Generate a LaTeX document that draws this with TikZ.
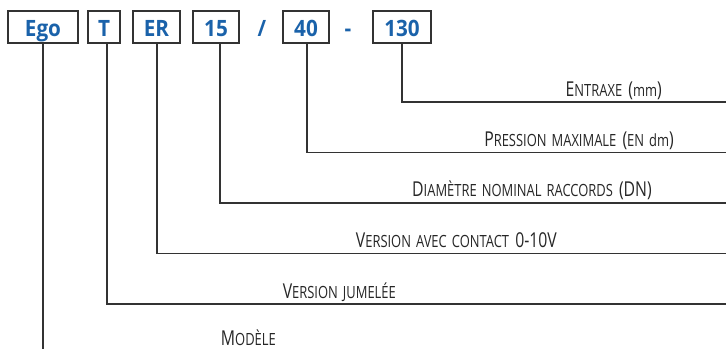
\documentclass[tikz,border=0pt]{standalone}
\usepackage{fontspec}
\setmainfont{Open Sans}[FakeStretch=0.77, WordSpace=1.5]
\newfontfamily\codefont{Open Sans}[FakeStretch=0.92]
\definecolor{codeblue}{HTML}{1A62AA}
\definecolor{linegray}{HTML}{333333}
\newcommand\smc[1]{{\fontsize{16.8}{18}\selectfont #1}}
\tikzset{
  codebox/.style={draw=linegray, line width=1.3pt, fill=white, inner sep=0pt,
    minimum height=32pt, text height=18pt, text depth=0pt,
    font=\codefont\bfseries\fontsize{22.5}{24}\selectfont, text=codeblue},
  sep/.style={inner sep=0pt, anchor=base,
    font=\codefont\bfseries\fontsize{22.5}{24}\selectfont, text=codeblue},
  conn/.style={draw=linegray, line width=1.3pt},
  lbl/.style={inner sep=0pt, anchor=base east, text=black!85,
    font=\fontsize{20.5}{23}\selectfont}
}
\begin{document}
\begin{tikzpicture}[x=1pt,y=-1pt]
\useasboundingbox (0,0) rectangle (726,349);
% code boxes
\node[codebox, minimum width=70pt] (ego) at (43,27) {Ego};
\node[codebox, minimum width=32pt] (T) at (104,27) {T};
\node[codebox, minimum width=47pt] (ER) at (156.5,27) {ER};
\node[codebox, minimum width=46pt] (n15) at (216,27) {15};
\node[sep] (slash) at (262,36) {/};
\node[codebox, minimum width=46pt] (n40) at (306,27) {40};
\node[sep] (dash) at (348,36) {-};
\node[codebox, minimum width=58pt] (n130) at (402,27) {130};
% line ends
\coordinate (e130) at (726,102);
\coordinate (e40) at (726,152.5);
\coordinate (e15) at (726,203);
\coordinate (eER) at (726,253.5);
\coordinate (eT) at (726,304);
\coordinate (eEgo) at (43,349);
% connectors
\draw[conn] (n130.south) |- (e130);
\draw[conn] ([xshift=1pt]n40.south) |- (e40);
\draw[conn] ([xshift=4pt]n15.south) |- (e15);
\draw[conn] ([xshift=0.5pt]ER.south) |- (eER);
\draw[conn] ([xshift=3pt]T.south) |- (eT);
\draw[conn] (ego.south) -- (eEgo);
% labels
\node[lbl] (l130) at (662,96.5) {E\smc{NTRAXE} (\smc{mm})};
\node[lbl] (l40) at (674,146.5) {P\smc{RESSION MAXIMALE} (\smc{EN dm})};
\node[lbl] (l15) at (652,196.5) {D\smc{IAMÈTRE NOMINAL RACCORDS} (DN)};
\node[lbl] (lER) at (557,247.5) {V\smc{ERSION AVEC CONTACT} 0-10V};
\node[lbl] (lT) at (396,298) {V\smc{ERSION JUMELÉE}};
\node[lbl] (lEgo) at (276,345.5) {M\smc{ODÈLE}};
\end{tikzpicture}
\end{document}
